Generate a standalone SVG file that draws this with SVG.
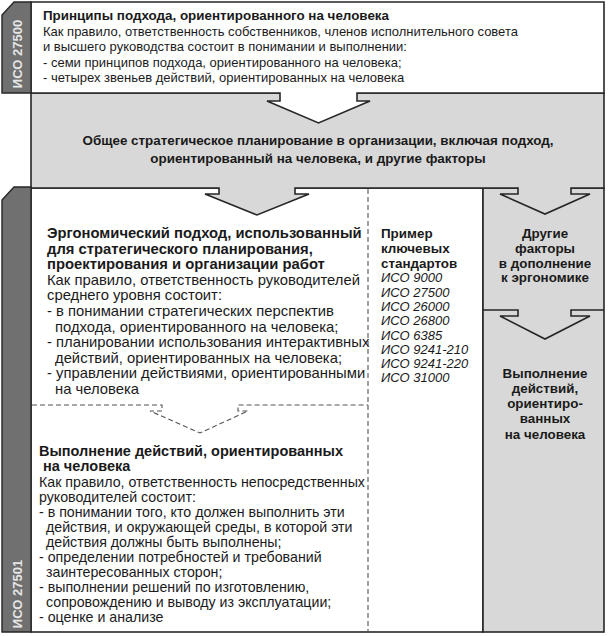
<svg xmlns="http://www.w3.org/2000/svg" width="608" height="636" viewBox="0 0 608 636">
<style>
.t{font-family:"Liberation Sans",Arial,sans-serif;fill:#1a1a1a}
.s13{font-size:13px}
.s134{font-size:13.4px}
.s14{font-size:14.8px}
.s142{font-size:14.2px}
.s144{font-size:14.5px}
.b{font-weight:bold}
.i{font-style:italic}
.c{text-anchor:middle}
.frame{stroke:#262626;stroke-width:1.6;stroke-linejoin:miter}
.gray{fill:#d8d8d8}
.bar{fill:#707070;stroke:#262626;stroke-width:1.4}
.bartxt{font-family:"Liberation Sans",Arial,sans-serif;font-size:13px;font-weight:bold;fill:#e6e6e6;text-anchor:middle}
.dash{fill:none;stroke:#555;stroke-width:1.1;stroke-dasharray:5 3}
</style>
<rect width="608" height="636" fill="#ffffff"/>

<g id="lower-white">
<rect class="frame" x="31" y="188" width="452" height="444" fill="#ffffff"/>
</g>
<g id="right-column">
<rect class="frame gray" x="483" y="188" width="121" height="444"/>
</g>

<g id="band">
<path class="frame gray" d="M31,93 H604 V188 H571 V194 H590 L545,214 L500,194 H518 V188 H295 V194 H309 L257,215 L205,194 H219 V188 H31 Z"/>
<text class="t s134 b c" x="318" y="145">Общее стратегическое планирование в организации, включая подход,</text>
<text class="t s134 b c" x="318" y="163">ориентированный на человека, и другие факторы</text>
</g>

<g id="top-box">
<path class="frame" fill="#ffffff" d="M31,2 H604 V93 H357 V101 H370 L318.5,123 L267,101 H280 V93 H31 Z"/>
<text class="t s134 b" x="43" y="20">Принципы подхода, ориентированного на человека</text>
<text class="t s13" x="43" y="36">Как правило, ответственность собственников, членов исполнительного совета</text>
<text class="t s13" x="43" y="51">и высшего руководства состоит в понимании и выполнении:</text>
<text class="t s13" x="43" y="67">- семи принципов подхода, ориентированного на человека;</text>
<text class="t s13" x="43" y="82">- четырех звеньев действий, ориентированных на человека</text>
</g>

<g id="bar-27500">
<path class="bar" d="M14,2 H31 V93 H2 V15 Z"/>
<text class="bartxt" transform="translate(22,54) rotate(-90)">ИСО 27500</text>
</g>
<g id="bar-27501">
<path class="bar" d="M14,187 H31 V632 H2 V200 Z"/>
<text class="bartxt" transform="translate(22,594) rotate(-90)">ИСО 27501</text>
</g>

<g id="connectors">
<path class="frame" fill="none" d="M483,310 H518 V316 H500 L545,339 L590,316 H571 V310 H604"/>
<line class="dash" x1="368" y1="189" x2="368" y2="631"/>
<path class="dash" d="M32,405 H162 V411 H150 L200,433 L248,411 H238 V405 H368"/>
</g>

<g id="ergo">
<text class="t s14 b" x="47" y="238">Эргономический подход, использованный</text>
<text class="t s14 b" x="47" y="254">для стратегического планирования,</text>
<text class="t s14 b" x="47" y="269">проектирования и организации работ</text>
<text class="t s14" x="47" y="285">Как правило, ответственность руководителей</text>
<text class="t s14" x="47" y="300">среднего уровня состоит:</text>
<text class="t s14" x="47" y="316">- в понимании стратегических перспектив</text>
<text class="t s14" x="55" y="332">подхода, ориентированного на человека;</text>
<text class="t s14" x="47" y="347">- планировании использования интерактивных</text>
<text class="t s14" x="55" y="363">действий, ориентированных на человека;</text>
<text class="t s14" x="47" y="378">- управлении действиями, ориентированными</text>
<text class="t s14" x="55" y="394">на человека</text>
</g>

<g id="standards">
<text class="t s134 b" x="381" y="238">Пример</text>
<text class="t s134 b" x="381" y="253">ключевых</text>
<text class="t s134 b" x="381" y="268">стандартов</text>
<text class="t s13 i" x="381" y="282">ИСО 9000</text>
<text class="t s13 i" x="381" y="297">ИСО 27500</text>
<text class="t s13 i" x="381" y="311">ИСО 26000</text>
<text class="t s13 i" x="381" y="325">ИСО 26800</text>
<text class="t s13 i" x="381" y="340">ИСО 6385</text>
<text class="t s13 i" x="381" y="354">ИСО 9241-210</text>
<text class="t s13 i" x="381" y="368">ИСО 9241-220</text>
<text class="t s13 i" x="381" y="382">ИСО 31000</text>
</g>

<g id="other-factors">
<text class="t s134 b c" x="545" y="238">Другие</text>
<text class="t s134 b c" x="545" y="253">факторы</text>
<text class="t s134 b c" x="545" y="268">в дополнение</text>
<text class="t s134 b c" x="545" y="282">к эргономике</text>
</g>

<g id="perform-right">
<text class="t s134 b c" x="545" y="378">Выполнение</text>
<text class="t s134 b c" x="545" y="393">действий,</text>
<text class="t s134 b c" x="545" y="408">ориентиро-</text>
<text class="t s134 b c" x="545" y="423">ванных</text>
<text class="t s134 b c" x="545" y="439">на человека</text>
</g>

<g id="perform">
<text class="t s144 b" x="39" y="456">Выполнение действий, ориентированных</text>
<text class="t s144 b" x="43" y="471">на человека</text>
<text class="t s142" x="39" y="487">Как правило, ответственность непосредственных</text>
<text class="t s142" x="39" y="502">руководителей состоит:</text>
<text class="t s142" x="39" y="517">- в понимании того, кто должен выполнить эти</text>
<text class="t s142" x="46" y="532">действия, и окружающей среды, в которой эти</text>
<text class="t s142" x="46" y="547">действия должны быть выполнены;</text>
<text class="t s142" x="39" y="562">- определении потребностей и требований</text>
<text class="t s142" x="46" y="577">заинтересованных сторон;</text>
<text class="t s142" x="39" y="592">- выполнении решений по изготовлению,</text>
<text class="t s142" x="46" y="607">сопровождению и выводу из эксплуатации;</text>
<text class="t s142" x="39" y="622">- оценке и анализе</text>
</g>
</svg>
